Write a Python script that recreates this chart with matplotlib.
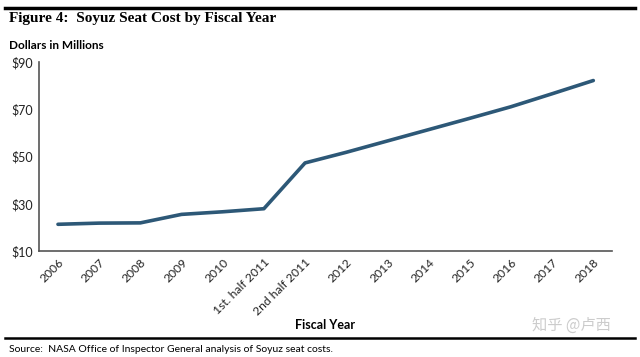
import matplotlib.pyplot as plt
from matplotlib.lines import Line2D

years = ["2006", "2007", "2008", "2009", "2010", "1st. half 2011", "2nd half 2011",
         "2012", "2013", "2014", "2015", "2016", "2017", "2018"]
cost = [21.3, 21.8, 21.9, 25.5, 26.6, 27.9, 47.3, 51.8, 56.6, 61.4, 66.2, 71.1, 76.6, 82.2]
yticks = [10, 30, 50, 70, 90]

fig = plt.figure(figsize=(6.4, 3.57), dpi=100)
ax = fig.add_axes([0.061, 0.297, 0.895, 0.529])

x = list(range(len(years)))
ax.plot(x, cost, color="#2d5877", lw=2.6, solid_capstyle="round")

ax.set_ylim(10, 90)
ax.set_xlim(-0.46, 13.45)
ax.set_yticks(yticks)
ax.set_yticklabels(["$%d" % v for v in yticks], fontsize=9, family="Lato", color="#222222")
ax.set_xticks(x)
ax.set_xticklabels(years, rotation=45, ha="right", rotation_mode="anchor",
                   fontsize=8.7, family="Lato", color="#222222")
ax.tick_params(length=0, pad=4)
for s in ["top", "right"]:
    ax.spines[s].set_visible(False)
for s in ["left", "bottom"]:
    ax.spines[s].set_color("#555555")
    ax.spines[s].set_linewidth(1.2)

ax.set_xlabel("Fiscal Year", fontsize=9, family="Lato", fontweight="bold", labelpad=1)

# header / footer rules
fig.add_artist(Line2D([0.008, 0.992], [0.978, 0.978], color="black", lw=2.5))
fig.add_artist(Line2D([0.008, 0.992], [0.053, 0.053], color="black", lw=1.8))

fig.text(0.014, 0.948, "Figure 4:  Soyuz Seat Cost by Fiscal Year", fontsize=11,
         family="Liberation Serif", fontweight="bold", va="center")
fig.text(0.014, 0.873, "Dollars in Millions", fontsize=8.5, family="Lato",
         fontweight="bold", va="center")
fig.text(0.014, 0.022, "Source:  NASA Office of Inspector General analysis of Soyuz seat costs.",
         fontsize=7.5, family="Lato", va="center")
fig.text(0.955, 0.088, "知乎 @卢西", fontsize=11, family=["Noto Sans CJK SC", "DejaVu Sans"],
         color="#cccccc", ha="right", va="center")

fig.savefig("out.png", dpi=100, facecolor="white")
